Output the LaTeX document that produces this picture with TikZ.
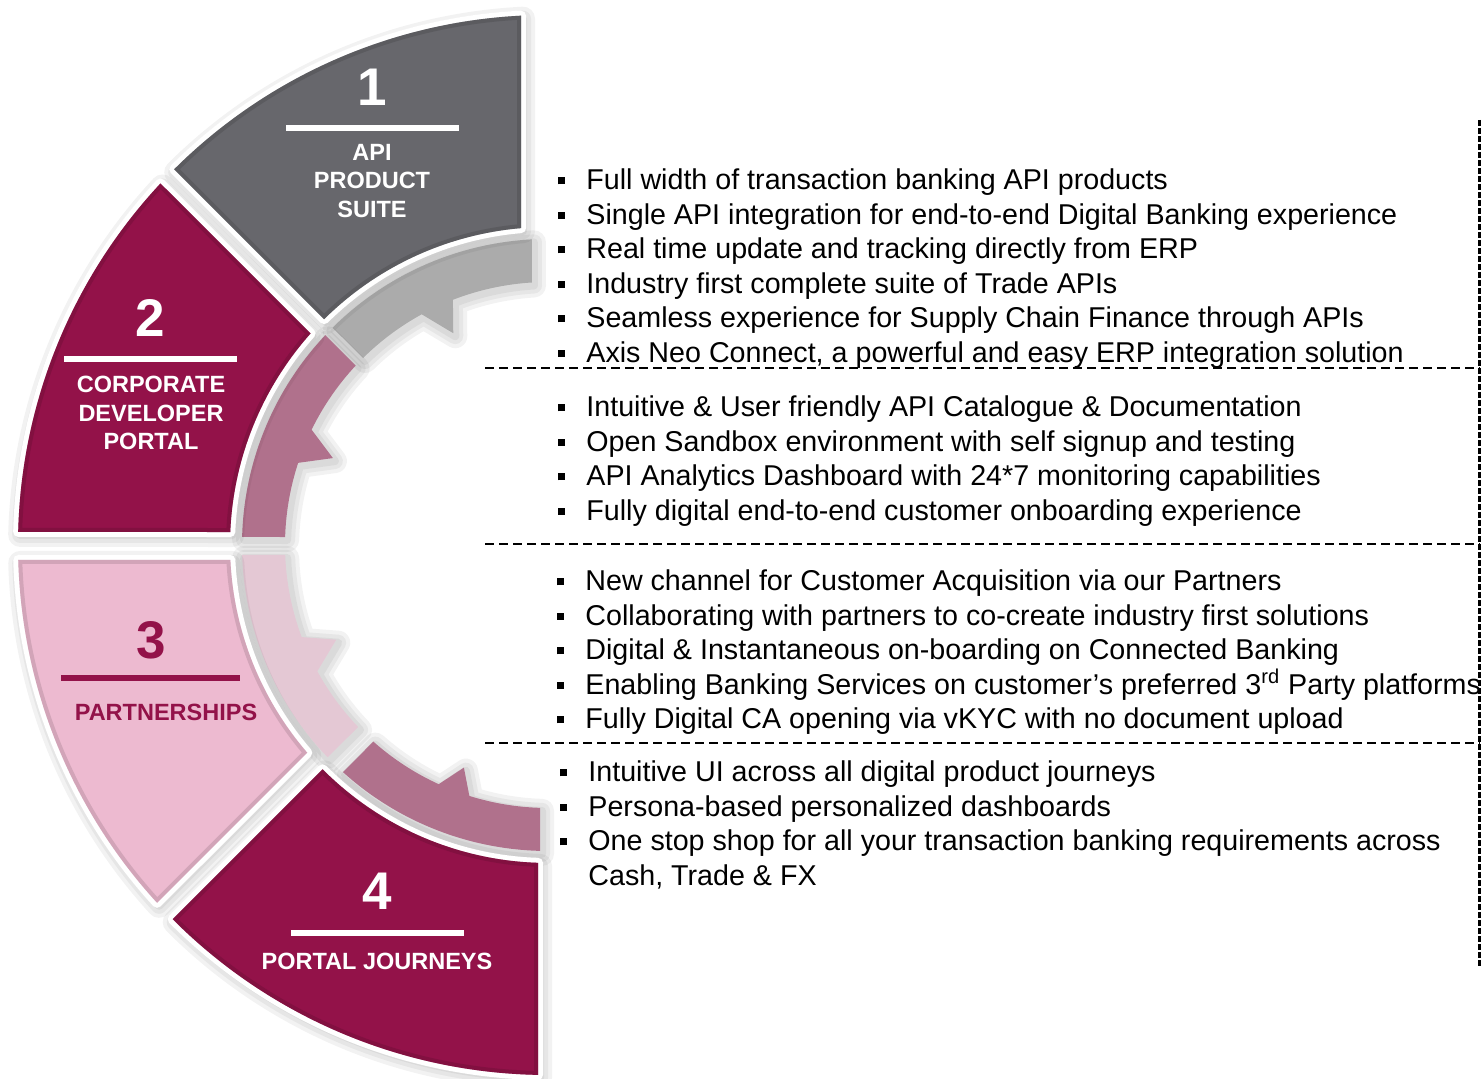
\documentclass[tikz,border=0pt]{standalone}
\usepackage{fontspec}
\setmainfont{Liberation Sans}
\usepackage{tikz}
\usetikzlibrary{positioning}

\definecolor{SegGray}{HTML}{67676C}
\definecolor{SegCrimson}{HTML}{931249}
\definecolor{SegPink}{HTML}{EDBAD0}
\definecolor{BandGray}{HTML}{ABABAB}
\definecolor{BandMauve}{HTML}{B0718C}
\definecolor{BandPink}{HTML}{E4C8D4}

\tikzset{
  segnum/.style={font=\fontsize{26.5}{30}\selectfont\bfseries, inner sep=0pt, text=white},
  seglabel/.style={font=\fontsize{11.75}{14.25}\selectfont\bfseries, align=center, inner sep=0pt, text=white},
  labelbar/.style={line width=3pt, white},
  pointlist/.style={font=\fontsize{14.33}{17.25}\selectfont, align=left, inner sep=0pt, anchor=north west},
  sepline/.style={black, line width=1pt, dash pattern=on 4.5pt off 2.5pt},
  vsepline/.style={black, line width=1.5pt, dash pattern=on 3pt off 1pt},
}

% bullet item and strut for the first line of a list
\newcommand{\bitem}[1]{\makebox[14pt][l]{\rule[2.6pt]{3.5pt}{3.5pt}}#1}
\newcommand{\firstline}{\rule{0pt}{12pt}}

% soft shadow round a closed path
\newcommand{\softglow}[1]{%
  \foreach \w in {12,8,4}
    \draw[black, opacity=0.05, line width=\w pt, line join=round, xshift=1pt, yshift=-1.5pt] #1;
}
% one outer ring segment: shadow, white border, fill, inner rim
\newcommand{\ringsegment}[2]{%
  \softglow{#1}
  \draw[white, line width=5pt, line join=round] #1;
  \fill[#2] #1;
  \begin{scope}
    \clip #1;
    \draw[#2!75!black, opacity=0.45, line width=4pt] #1;
  \end{scope}
}
% one inner arrow band
\newcommand{\arrowband}[2]{%
  \softglow{#1}
  \fill[#2] #1;
}

\begin{document}
\begin{tikzpicture}[x=0.5pt, y=0.5pt]
  \useasboundingbox (0,0) rectangle (1482,1079);

  \begin{scope}[shift={(548,534)}]
    % Inner arrow bands
    \arrowband{(93.00:306) arc[start angle=93.00, end angle=134.74, radius=306]
      -- (134.69:263) arc[start angle=134.69, end angle=118.7, radius=263]
      -- (114.1:232) -- (111.2:263) arc[start angle=111.2, end angle=93.49, radius=263] -- cycle}{BandGray}
    \arrowband{(136.72:306) arc[start angle=136.72, end angle=178.50, radius=306]
      -- (178.26:263) arc[start angle=178.26, end angle=161.8, radius=263]
      -- (158:232) -- (154:263) arc[start angle=154, end angle=137, radius=263] -- cycle}{BandMauve}
    \arrowband{(181.87:306) arc[start angle=181.87, end angle=223.94, radius=306]
      -- (223.77:263) arc[start angle=223.77, end angle=208.7, radius=263]
      -- (204.1:232) -- (200.5:263) arc[start angle=200.5, end angle=182.18, radius=263] -- cycle}{BandPink}
    \arrowband{(227.92:306) arc[start angle=227.92, end angle=268.50, radius=306]
      -- (268.26:263) arc[start angle=268.26, end angle=252.6, radius=263]
      -- (249.3:238) -- (245.45:263) arc[start angle=245.45, end angle=228.39, radius=263] -- cycle}{BandMauve}

    % Outer ring segments
    \ringsegment{(92.92:530) arc[start angle=92.92, end angle=134.85, radius=530]
      -- (134.75:318) arc[start angle=134.75, end angle=94.87, radius=318] -- cycle}{SegGray}
    \ringsegment{(136.99:530) arc[start angle=136.99, end angle=178.59, radius=530]
      -- (177.66:318) arc[start angle=177.66, end angle=138.31, radius=318] -- cycle}{SegCrimson}
    \ringsegment{(181.62:530) arc[start angle=181.62, end angle=222.47, radius=530]
      -- (220.79:318) arc[start angle=220.79, end angle=182.70, radius=318] -- cycle}{SegPink}
    \ringsegment{(224.92:530) arc[start angle=224.92, end angle=268.92, radius=530]
      -- (268.20:318) arc[start angle=268.20, end angle=224.87, radius=318] -- cycle}{SegCrimson}
  \end{scope}

  % Segment numbers, bars and titles
  \node[segnum] (num1) at (372,992) {1};
  \draw[labelbar] (286,951) -- (459,951);
  \node[seglabel] (lab1) at (372,898) {API\\PRODUCT\\SUITE};

  \node[segnum] (num2) at (150,761) {2};
  \draw[labelbar] (64,720) -- (237,720);
  \node[seglabel] (lab2) at (151,666) {CORPORATE\\DEVELOPER\\PORTAL};

  \node[segnum, text=SegCrimson] (num3) at (151,439) {3};
  \draw[labelbar, SegCrimson] (61,401) -- (240,401);
  \node[seglabel, text=SegCrimson] (lab3) at (166,367) {PARTNERSHIPS};

  \node[segnum] (num4) at (377,188) {4};
  \draw[labelbar] (291,146) -- (464,146);
  \node[seglabel] (lab4) at (377,118) {PORTAL JOURNEYS};

  % Bullet lists
  \node[pointlist] (list1) at (558,913.7) {%
    \bitem{\firstline Full width of transaction banking API products}\\
    \bitem{Single API integration for end-to-end Digital Banking experience}\\
    \bitem{Real time update and tracking directly from ERP}\\
    \bitem{Industry first complete suite of Trade APIs}\\
    \bitem{Seamless experience for Supply Chain Finance through APIs}\\
    \bitem{Axis Neo Connect, a powerful and easy ERP integration solution}};
  \node[pointlist] (list2) at (558,686.7) {%
    \bitem{\firstline Intuitive \& User friendly API Catalogue \& Documentation}\\
    \bitem{Open Sandbox environment with self signup and testing}\\
    \bitem{API Analytics Dashboard with 24*7 monitoring capabilities}\\
    \bitem{Fully digital end-to-end customer onboarding experience}};
  \node[pointlist] (list3) at (557,512.7) {%
    \bitem{\firstline New channel for Customer Acquisition via our Partners}\\
    \bitem{Collaborating with partners to co-create industry first solutions}\\
    \bitem{Digital \& Instantaneous on-boarding on Connected Banking}\\
    \bitem{Enabling Banking Services on customer’s preferred 3\textsuperscript{rd} Party platforms}\\
    \bitem{Fully Digital CA opening via vKYC with no document upload}};
  \node[pointlist] (list4) at (560,321.7) {%
    \bitem{\firstline Intuitive UI across all digital product journeys}\\
    \bitem{Persona-based personalized dashboards}\\
    \bitem{One stop shop for all your transaction banking requirements across}\\
    \hspace*{14pt}Cash, Trade \& FX};

  % Dashed separators
  \foreach \yy in {711,535,336}
    \draw[sepline] (485,\yy) -- (1480,\yy);
  \draw[vsepline] (1479,959) -- (1479,111);
\end{tikzpicture}
\end{document}
